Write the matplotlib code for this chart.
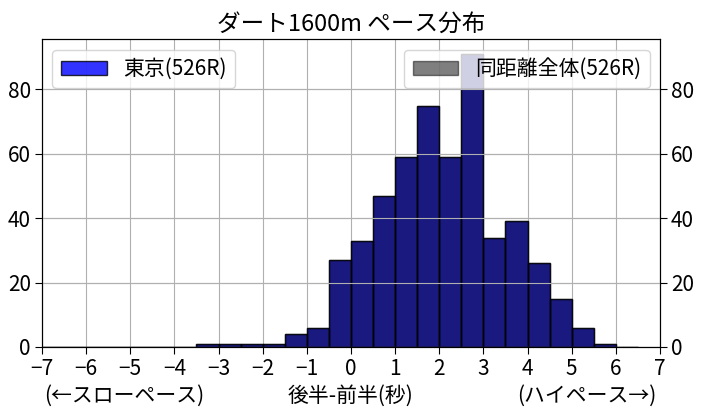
import numpy as np
import matplotlib
matplotlib.use("Agg")
import matplotlib.pyplot as plt

plt.rcParams['font.family'] = ['Noto Sans CJK JP', 'DejaVu Sans']
plt.rcParams['axes.unicode_minus'] = True

# bin edges (seconds) and counts
bin_edges = np.arange(-7.0, 6.51, 0.5)
tokyo_counts = [0, 0, 0, 0, 0, 0, 0, 1, 1, 1, 1, 4, 6, 27, 33, 47, 59, 75, 59, 91, 34, 39, 26, 15, 6, 1, 0]
all_counts = [0, 0, 0, 0, 0, 0, 0, 1, 1, 1, 1, 4, 6, 27, 33, 47, 59, 75, 59, 91, 34, 39, 26, 15, 6, 1, 0]
label_tokyo = "東京(526R)"
label_all = "同距離全体(526R)"
title = "ダート1600m ペース分布"
xticks = list(range(-7, 8))
yticks = [0, 20, 40, 60, 80]

centers = (bin_edges[:-1] + bin_edges[1:]) / 2

fig = plt.figure(figsize=(7.01, 4.12), dpi=100)
ax = fig.add_axes([0.0599, 0.1578, 0.8816, 0.7467])
ax.hist(centers, bins=bin_edges, weights=tokyo_counts, color='blue', alpha=0.8,
        edgecolor='black', label=label_tokyo)
ax.grid(True, color='#b0b0b0', lw=0.8)
ax.set_axisbelow(True)
ax2 = ax.twinx()
ax2.hist(centers, bins=bin_edges, weights=all_counts, color='black', alpha=0.5,
         edgecolor='black', label=label_all)
ax2.grid(True, color='#b0b0b0', lw=0.8)

ymax = max(max(tokyo_counts), max(all_counts)) * 1.05
ax.set_ylim(0, ymax)
ax2.set_ylim(0, ymax)
ax.set_xlim(-7, 7)
ax.set_xticks(xticks)
ax.set_yticks(yticks)
ax2.set_yticks(yticks)
for a in (ax, ax2):
    a.tick_params(labelsize=15, length=5, pad=3)

ax.legend(loc='upper left', fontsize=15, handlelength=2.2)
ax2.legend(loc='upper right', fontsize=15, handlelength=2.2)
ax.set_title(title, fontsize=17, pad=6)

fig.text(0.5, 0.012, "後半-前半(秒)", ha='center', va='bottom', fontsize=15)
fig.text(0.063, 0.012, "(←スローペース)", ha='left', va='bottom', fontsize=15)
fig.text(0.937, 0.012, "(ハイペース→)", ha='right', va='bottom', fontsize=15)

fig.savefig("out.png", dpi=100)
